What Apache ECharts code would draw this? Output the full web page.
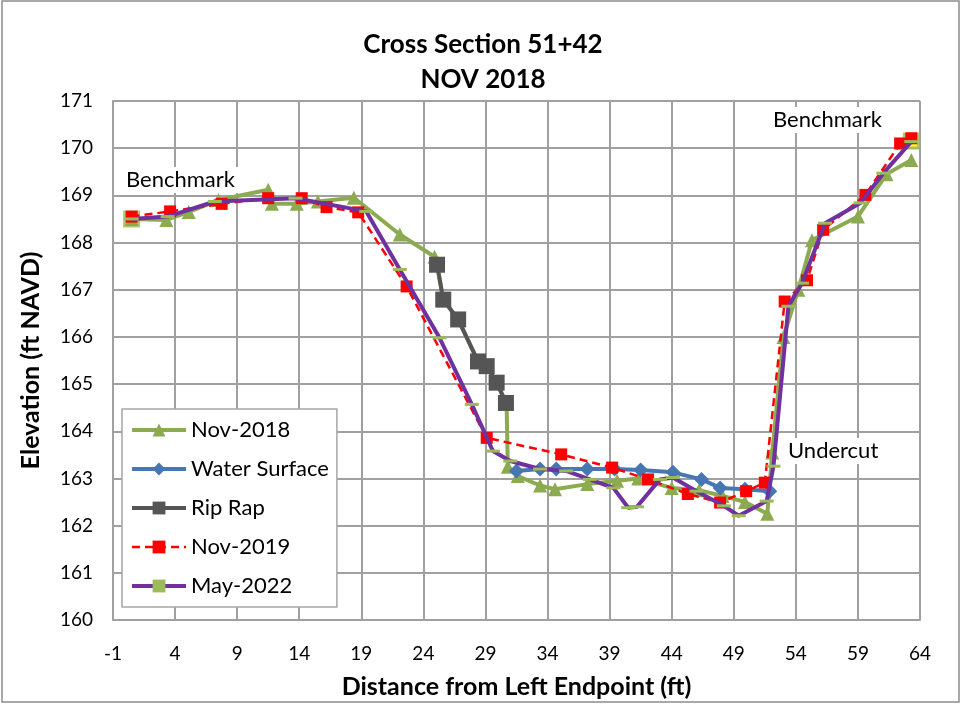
<!DOCTYPE html>
<html>
<head>
<meta charset="utf-8">
<script src="https://cdn.jsdelivr.net/npm/echarts@6/dist/echarts.min.js"></script>
<style>
  html, body { margin: 0; padding: 0; background: #fff; }
  #main { width: 962px; height: 704px; }
</style>
</head>
<body>
<div id="main"></div>
<script>
// values (x = ft from left endpoint, y = ft NAVD)
var nov2018X = [0.5, 3.3, 5.1, 7.5, 11.5, 11.8, 13.8, 15.5, 18.4, 22.1, 24.9, 25.1, 25.6, 26.8, 28.4, 29.1, 29.9, 30.7, 30.8, 31.6, 33.4, 34.6, 37.2, 39.6, 41.3, 44.0, 46.2, 48.1, 49.9, 51.7, 52.1, 53.0, 54.2, 55.3, 59.0, 61.3, 63.3];
var nov2018Y = [168.5, 168.48, 168.65, 168.9, 169.12, 168.82, 168.82, 168.87, 168.95, 168.17, 167.7, 167.53, 166.79, 166.37, 165.48, 165.38, 165.03, 164.6, 163.25, 163.05, 162.85, 162.77, 162.88, 162.95, 163.0, 162.8, 162.75, 162.63, 162.5, 162.25, 163.55, 166.0, 167.0, 168.05, 168.55, 169.45, 169.75];

var waterX = [31.5, 33.4, 34.7, 37.2, 39.4, 41.5, 44.1, 46.4, 47.9, 49.9, 51.9];
var waterY = [163.16, 163.2, 163.2, 163.2, 163.2, 163.18, 163.13, 162.98, 162.8, 162.77, 162.73];

var ripRapX = [25.1, 25.6, 26.8, 28.4, 29.1, 29.9, 30.65];
var ripRapY = [167.53, 166.79, 166.37, 165.48, 165.38, 165.03, 164.6];

var nov2019X = [0.5, 3.6, 7.75, 11.5, 14.2, 16.2, 18.75, 22.65, 29.1, 35.1, 39.2, 42.1, 45.3, 47.9, 50.0, 51.5, 53.1, 54.9, 56.2, 59.6, 62.4, 63.3];
var nov2019Y = [168.55, 168.66, 168.82, 168.94, 168.94, 168.75, 168.64, 167.07, 163.86, 163.51, 163.23, 162.98, 162.67, 162.49, 162.73, 162.91, 166.75, 167.2, 168.27, 169.01, 170.1, 170.21];

var may2022X = [0.5, 3.4, 7.2, 13.7, 19.4, 22.1, 25.3, 27.9, 29.6, 31.0, 33.4, 35.5, 37.4, 39.3, 40.5, 41.2, 43.05, 44.1, 46.0, 48.2, 49.4, 51.65, 52.2, 53.4, 54.5, 56.35, 59.2, 61.05, 63.3];
var may2022Y = [168.5, 168.55, 168.87, 168.94, 168.66, 167.43, 165.98, 164.57, 163.58, 163.37, 163.2, 163.16, 162.98, 162.8, 162.38, 162.4, 162.98, 163.02, 162.73, 162.42, 162.21, 162.52, 163.26, 166.65, 167.14, 168.41, 168.84, 169.47, 170.14];

var benchX = [0.5, 63.3];
var benchY = [168.5, 170.15];

// axis runs -1..64; shifted by +1 so ticks start on a multiple of the interval
var xShift = 1;
function pairs(xs, ys) {
    return xs.map(function (x, i) { return [x + xShift, ys[i]]; });
}

var font = 'Lato, "Open Sans", sans-serif';
var gridColor = '#a0a0a0';

var chart = echarts.init(document.getElementById('main'));

chart.setOption({
    animation: false,
    backgroundColor: '#ffffff',
    title: {
        text: 'Cross Section 51+42\nNOV 2018',
        left: 478,
        textAlign: 'center',
        top: 22,
        textStyle: {
            fontFamily: font,
            fontSize: 26,
            fontWeight: 'bold',
            color: '#000',
            lineHeight: 35
        }
    },
    grid: {
        left: 113,
        top: 101,
        width: 807,
        height: 520,
        containLabel: false
    },
    legend: {
        orient: 'vertical',
        left: 122,
        top: 409,
        padding: [10, 8, 10, 8],
        itemGap: 17,
        itemWidth: 54,
        itemHeight: 16,
        backgroundColor: '#ffffff',
        borderColor: '#a6a6a6',
        borderWidth: 1.5,
        textStyle: {fontFamily: font, fontSize: 22, color: '#000'},
        data: [
            {name: 'Nov-2018', lineStyle: {width: 4}},
            {name: 'Water Surface', lineStyle: {width: 4}},
            {name: 'Rip Rap', lineStyle: {width: 4}},
            {name: 'Nov-2019', lineStyle: {width: 2.5}},
            {name: 'May-2022', lineStyle: {width: 4}}
        ]
    },
    xAxis: {
        type: 'value',
        min: 0,
        max: 65,
        interval: 5,
        name: 'Distance from Left Endpoint (ft)',
        nameLocation: 'middle',
        nameGap: 54,
        nameTextStyle: {fontFamily: font, fontSize: 25, fontWeight: 'bold', color: '#000'},
        axisLine: {lineStyle: {color: gridColor, width: 2}},
        axisTick: {show: false},
        axisLabel: {
            fontFamily: font,
            fontSize: 19,
            color: '#000',
            margin: 24,
            formatter: function (v) { return String(v - xShift); }
        },
        splitLine: {show: true, lineStyle: {color: gridColor, width: 2}}
    },
    yAxis: {
        type: 'value',
        min: 160,
        max: 171,
        interval: 1,
        name: 'Elevation (ft NAVD)',
        nameLocation: 'middle',
        nameGap: 70,
        nameTextStyle: {fontFamily: font, fontSize: 25, fontWeight: 'bold', color: '#000'},
        axisLine: {show: true, lineStyle: {color: gridColor, width: 2}},
        axisTick: {show: false},
        axisLabel: {fontFamily: font, fontSize: 19, color: '#000', margin: 20},
        splitLine: {show: true, lineStyle: {color: gridColor, width: 2}}
    },
    graphic: [
        {
            type: 'rect',
            shape: {x: 2, y: 1, width: 957, height: 701},
            style: {fill: 'none', stroke: '#8c8c8c', lineWidth: 1.5},
            silent: true
        },
        {
            type: 'text', left: 122, top: 167, z: 10,
            style: {text: 'Benchmark', font: '22px ' + font, fill: '#000', backgroundColor: '#fff', padding: [2, 4]}
        },
        {
            type: 'text', left: 769, top: 107, z: 10,
            style: {text: 'Benchmark', font: '22px ' + font, fill: '#000', backgroundColor: '#fff', padding: [2, 4]}
        },
        {
            type: 'text', left: 784, top: 438, z: 10,
            style: {text: 'Undercut', font: '22px ' + font, fill: '#000', backgroundColor: '#fff', padding: [2, 4]}
        }
    ],
    series: [
        {
            name: 'Benchmarks',
            type: 'scatter',
            data: pairs(benchX, benchY),
            symbol: 'rect',
            symbolSize: 14,
            itemStyle: {color: '#ffff00', borderColor: '#9bbb59', borderWidth: 3},
            z: 1
        },
        {
            name: 'Nov-2018',
            type: 'line',
            data: pairs(nov2018X, nov2018Y),
            symbol: 'triangle',
            symbolSize: 14,
            showAllSymbol: true,
            lineStyle: {color: '#8caa50', width: 4},
            itemStyle: {color: '#8caa50'},
            z: 2
        },
        {
            name: 'Water Surface',
            type: 'line',
            data: pairs(waterX, waterY),
            symbol: 'diamond',
            symbolSize: 15,
            lineStyle: {color: '#4677b3', width: 4},
            itemStyle: {color: '#4677b3'},
            z: 3
        },
        {
            name: 'Rip Rap',
            type: 'line',
            data: pairs(ripRapX, ripRapY),
            symbol: 'rect',
            symbolSize: 16,
            lineStyle: {color: '#555555', width: 4},
            itemStyle: {color: '#555555'},
            z: 4
        },
        {
            name: 'Nov-2019',
            type: 'line',
            data: pairs(nov2019X, nov2019Y),
            symbol: 'rect',
            symbolSize: 12,
            lineStyle: {color: '#ff0000', width: 2.5, type: [8, 5]},
            itemStyle: {color: '#ff0000'},
            z: 5
        },
        {
            name: 'May-2022',
            type: 'line',
            data: pairs(may2022X, may2022Y),
            symbol: 'rect',
            symbolSize: [14, 3],
            lineStyle: {color: '#7030a0', width: 4},
            itemStyle: {color: '#9bbb59'},
            z: 6
        }
    ]
});
</script>
</body>
</html>
